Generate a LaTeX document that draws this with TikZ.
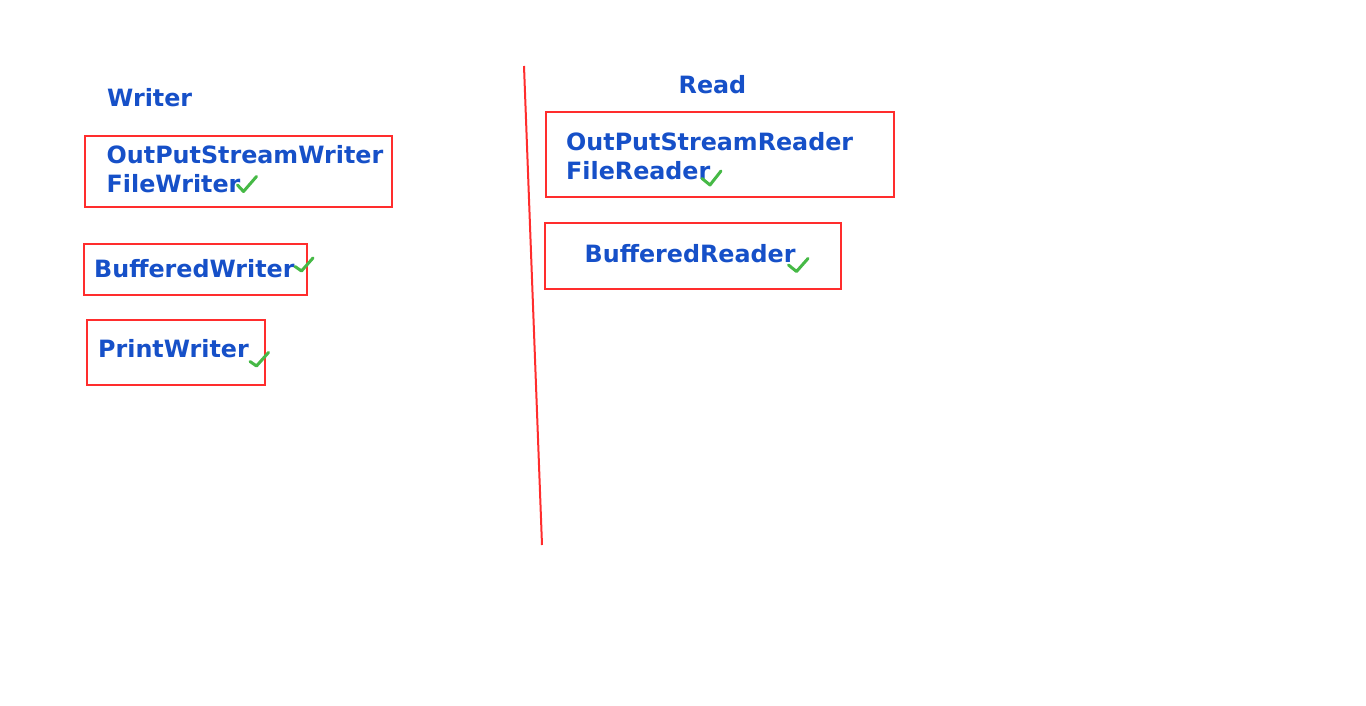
\documentclass[tikz,border=0pt]{standalone}
\usepackage{fontspec}
\setmainfont{DejaVu Sans}
\definecolor{tblue}{RGB}{22,80,200}
\definecolor{bred}{RGB}{255,45,45}
\definecolor{cgreen}{RGB}{70,185,70}
\begin{document}
\begin{tikzpicture}[x=1pt,y=-1pt,
  lbl/.style={anchor=base west,inner sep=0pt,text=tblue,font=\fontsize{23.8}{28}\selectfont\bfseries},
  frame/.style={draw=bred,line width=2pt},
  tick/.style={draw=cgreen,line width=3pt,line cap=round,line join=round}]
\useasboundingbox (0,0) rectangle (1366,706);
% divider
\coordinate (dtop) at (524,66);
\coordinate (dbot) at (542,545);
\draw[draw=bred,line width=2pt] (dtop) -- (dbot);
% Writer side
\node[lbl] (wtitle) at (107,107) {Writer};
\draw[frame] (85,136) rectangle (392,206.5);
\node[lbl] (osw) at (106.5,164) {OutPutStreamWriter};
\node[lbl] (fw) at (106.5,192.5) {FileWriter};
\draw[tick] (237.5,185) -- (243.5,191.5) -- (256.5,176.5);
\draw[frame] (84,243.5) rectangle (306.5,294.5);
\node[lbl] (bw) at (94,277) {BufferedWriter};
\draw[tick] (295,266.5) -- (301.5,271) -- (313,258);
\draw[frame] (87,319.5) rectangle (265,385);
\node[lbl] (pw) at (98,357) {PrintWriter};
\draw[tick] (250,361.5) -- (256.5,366) -- (268.5,352.5);
% Read side
\node[lbl] (rtitle) at (678.5,94) {Read};
\draw[frame] (546,112.5) rectangle (894,196.5);
\node[lbl] (osr) at (566,151) {OutPutStreamReader};
\node[lbl] (fr) at (566,179.5) {FileReader};
\draw[tick] (702,178.5) -- (710,185) -- (721,171);
\draw[frame] (545,223) rectangle (840.5,288.5);
\node[lbl] (br) at (584.5,262) {BufferedReader};
\draw[tick] (788.5,265) -- (796.5,271.5) -- (808,258.5);
\end{tikzpicture}
\end{document}
